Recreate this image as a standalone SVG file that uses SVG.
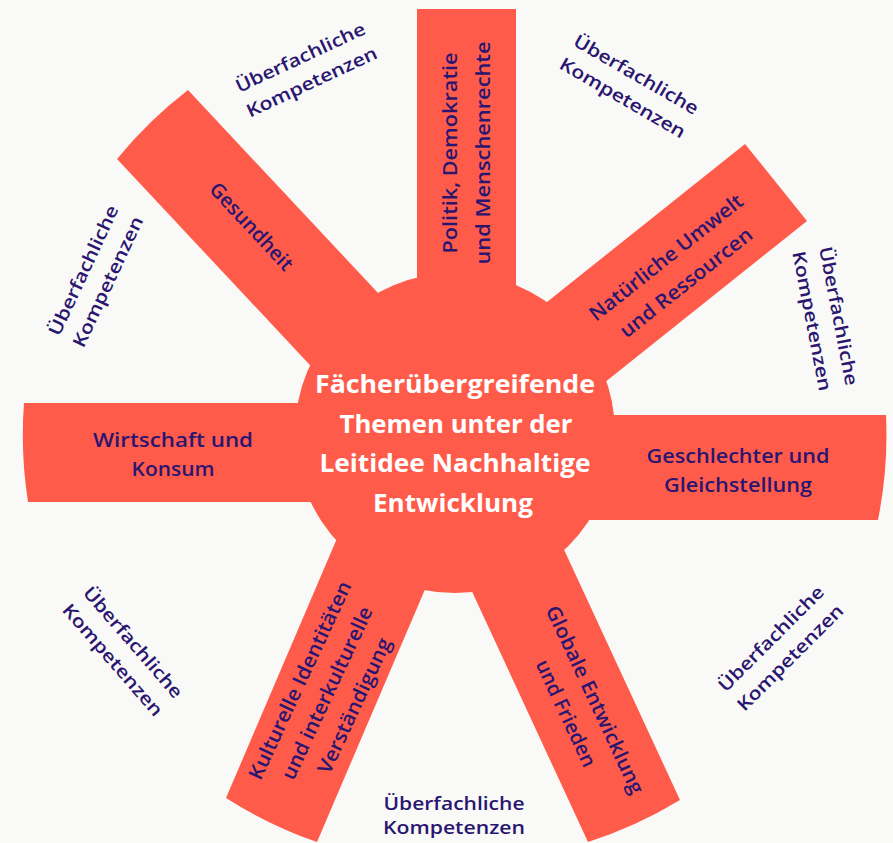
<svg xmlns="http://www.w3.org/2000/svg" width="893" height="843" viewBox="0 0 893 843">
<style>
.bar{fill:#ff5b4b}
.lbl{font-family:"Open Sans","Noto Sans",sans-serif;font-weight:600;font-size:20px;fill:#2a1670;text-anchor:middle}
.ub{font-family:"Open Sans","Noto Sans",sans-serif;font-weight:600;font-size:18px;fill:#2a1670;text-anchor:middle}
.ctr{font-family:"Open Sans","Noto Sans",sans-serif;font-weight:700;font-size:25px;fill:#ffffff;text-anchor:middle}
</style>
<rect width="893" height="843" fill="#f9f9f7"/>
<g id="spokes">
  <g id="politik">
    <path class="bar" d="M417,300 L417,9 L516,9 L516,300 Z"/>
    <g transform="translate(473,153) rotate(-90)">
      <text class="lbl" x="0" y="-16" textLength="201" lengthAdjust="spacingAndGlyphs">Politik, Demokratie</text>
      <text class="lbl" x="0" y="17" textLength="223" lengthAdjust="spacingAndGlyphs">und Menschenrechte</text>
    </g>
  </g>
  <g id="gesundheit">
    <path class="bar" d="M117,159 A432,432 0 0 1 188,90 L393,309 L322,378 Z"/>
    <text class="lbl" transform="translate(251.5,226.5) rotate(47)" x="0" y="7" textLength="112" lengthAdjust="spacingAndGlyphs">Gesundheit</text>
  </g>
  <g id="umwelt">
    <path class="bar" d="M745,144 L807,221 L572,408.5 L510,331.5 Z"/>
    <g transform="translate(676,270) rotate(-38.5)">
      <text class="lbl" x="0" y="-9" textLength="190" lengthAdjust="spacingAndGlyphs">Natürliche Umwelt</text>
      <text class="lbl" x="0" y="23" textLength="163" lengthAdjust="spacingAndGlyphs">und Ressourcen</text>
    </g>
  </g>
  <g id="wirtschaft">
    <path class="bar" d="M28,502 A432,432 0 0 1 24,403 L330,403 L330,502 Z"/>
    <text class="lbl" x="173" y="447" textLength="160" lengthAdjust="spacingAndGlyphs">Wirtschaft und</text>
    <text class="lbl" x="173" y="476" textLength="83" lengthAdjust="spacingAndGlyphs">Konsum</text>
  </g>
  <g id="geschlechter">
    <path class="bar" d="M580,415 L886,415 A432,432 0 0 1 878,520 L580,520 Z"/>
    <text class="lbl" x="738" y="463" textLength="183" lengthAdjust="spacingAndGlyphs">Geschlechter und</text>
    <text class="lbl" x="738" y="492" textLength="148" lengthAdjust="spacingAndGlyphs">Gleichstellung</text>
  </g>
  <g id="kulturelle">
    <path class="bar" d="M344,522 L226,798 A432,432 0 0 0 317,842 L435,566 Z"/>
    <g transform="translate(327,693) rotate(-65)">
      <text class="lbl" x="0" y="-23" textLength="216" lengthAdjust="spacingAndGlyphs">Kulturelle Identitäten</text>
      <text class="lbl" x="0" y="7" textLength="188" lengthAdjust="spacingAndGlyphs">und interkulturelle</text>
      <text class="lbl" x="0" y="37" textLength="147" lengthAdjust="spacingAndGlyphs">Verständigung</text>
    </g>
  </g>
  <g id="globale">
    <path class="bar" d="M554,528 L680,800 A432,432 0 0 1 588,842 L462,570 Z"/>
    <g transform="translate(580.5,706.5) rotate(65)">
      <text class="lbl" x="0" y="-9" textLength="205" lengthAdjust="spacingAndGlyphs">Globale Entwicklung</text>
      <text class="lbl" x="0" y="23" textLength="116" lengthAdjust="spacingAndGlyphs">und Frieden</text>
    </g>
  </g>
</g>
<g id="center">
  <circle class="bar" cx="455" cy="433" r="160"/>
  <text class="ctr" x="455" y="393" textLength="280" lengthAdjust="spacingAndGlyphs">Fächerübergreifende</text>
  <text class="ctr" x="456" y="433" textLength="233" lengthAdjust="spacingAndGlyphs">Themen unter der</text>
  <text class="ctr" x="455" y="472" textLength="271" lengthAdjust="spacingAndGlyphs">Leitidee Nachhaltige</text>
  <text class="ctr" x="453" y="512" textLength="160" lengthAdjust="spacingAndGlyphs">Entwicklung</text>
</g>
<g id="kompetenzen">
  <g id="k-tl" transform="translate(306,69.5) rotate(-25)">
    <text class="ub" x="0" y="-7" textLength="141" lengthAdjust="spacingAndGlyphs">Überfachliche</text>
    <text class="ub" x="0" y="20" textLength="142" lengthAdjust="spacingAndGlyphs">Kompetenzen</text>
  </g>
  <g id="k-tr" transform="translate(629.5,86) rotate(30)">
    <text class="ub" x="0" y="-7" textLength="141" lengthAdjust="spacingAndGlyphs">Überfachliche</text>
    <text class="ub" x="0" y="20" textLength="142" lengthAdjust="spacingAndGlyphs">Kompetenzen</text>
  </g>
  <g id="k-r" transform="translate(825.5,318.5) rotate(79)">
    <text class="ub" x="0" y="-7" textLength="141" lengthAdjust="spacingAndGlyphs">Überfachliche</text>
    <text class="ub" x="0" y="20" textLength="142" lengthAdjust="spacingAndGlyphs">Kompetenzen</text>
  </g>
  <g id="k-l" transform="translate(95.5,276) rotate(-65)">
    <text class="ub" x="0" y="-7" textLength="141" lengthAdjust="spacingAndGlyphs">Überfachliche</text>
    <text class="ub" x="0" y="20" textLength="142" lengthAdjust="spacingAndGlyphs">Kompetenzen</text>
  </g>
  <g id="k-bl" transform="translate(123,651) rotate(49)">
    <text class="ub" x="0" y="-7" textLength="141" lengthAdjust="spacingAndGlyphs">Überfachliche</text>
    <text class="ub" x="0" y="20" textLength="142" lengthAdjust="spacingAndGlyphs">Kompetenzen</text>
  </g>
  <g id="k-br" transform="translate(780.5,648) rotate(-45)">
    <text class="ub" x="0" y="-7" textLength="141" lengthAdjust="spacingAndGlyphs">Überfachliche</text>
    <text class="ub" x="0" y="20" textLength="142" lengthAdjust="spacingAndGlyphs">Kompetenzen</text>
  </g>
  <g id="k-b">
    <text class="ub" x="454" y="810" textLength="141" lengthAdjust="spacingAndGlyphs">Überfachliche</text>
    <text class="ub" x="454" y="834" textLength="142" lengthAdjust="spacingAndGlyphs">Kompetenzen</text>
  </g>
</g>
<g id="connectors"/>
</svg>
